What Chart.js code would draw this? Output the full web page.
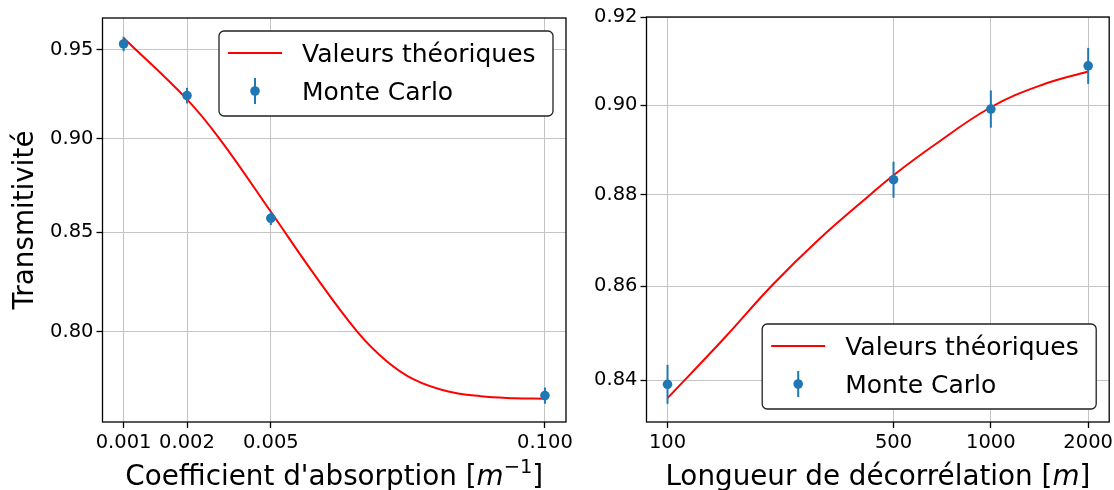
<!DOCTYPE html>
<html>
<head>
<meta charset="utf-8">
<script src="https://cdn.jsdelivr.net/npm/chart.js@4.4.1/dist/chart.umd.min.js"></script>
<style>
    html, body { margin: 0; padding: 0; background: #fff; }
    #wrap { position: relative; width: 1114px; height: 490px; }
    .panel { position: absolute; top: 0; height: 490px; }
</style>
</head>
<body>
<div id="wrap">
    <div class="panel" style="left:0;width:575px"><canvas id="absChart" width="575" height="490"></canvas></div>
    <div class="panel" style="left:575px;width:539px"><canvas id="corrChart" width="539" height="490"></canvas></div>
</div>
<script>
// Legend labels (same for both panels): theory first, Monte Carlo second
const seriesLabels = ['Valeurs théoriques', 'Monte Carlo'];

// Left panel - absorption coefficient
const absTheoryX = [0.001, 0.002, 0.00288, 0.005, 0.008, 0.01285, 0.01751, 0.02386, 0.0344, 0.0495, 0.0712, 0.1];
const absTheoryY = [0.9570, 0.9218, 0.8993, 0.8607, 0.8287, 0.8000, 0.7862, 0.7770, 0.7714, 0.7691, 0.7682, 0.7679];
const absMcX = [0.001, 0.002, 0.005, 0.1];
const absMcY = [0.9535, 0.9239, 0.8573, 0.7694];
const absMcErr = [0.0042, 0.0044, 0.0036, 0.0038];
const absTicksX = [0.001, 0.002, 0.005, 0.1];
const absTicksY = [0.80, 0.85, 0.90, 0.95];

// Right panel - decorrelation length
const corrTheoryX = [100, 150, 210, 292, 427, 500, 662, 1000, 1444, 2000];
const corrTheoryY = [0.8362, 0.8489, 0.8601, 0.8700, 0.8802, 0.8843, 0.8908, 0.8995, 0.9046, 0.9076];
const corrMcX = [100, 500, 1000, 2000];
const corrMcY = [0.8391, 0.8833, 0.8991, 0.9089];
const corrMcErr = [0.0041, 0.0040, 0.0042, 0.0041];
const corrTicksX = [100, 500, 1000, 2000];
const corrTicksY = [0.84, 0.86, 0.88, 0.90, 0.92];

const FONT = '"DejaVu Sans", sans-serif';
const MC_COLOR = '#1f77b4';
const THEORY_COLOR = '#ff0000';

function drawLegend(ctx, area, corner) {
    const w = 334, h = 85, inset = 13;
    const x = area.right - inset - w;
    const y = corner === 'top' ? area.top + inset : area.bottom - inset - h;

    ctx.fillStyle = '#fff';
    ctx.strokeStyle = '#222';
    ctx.lineWidth = 1.3;
    ctx.beginPath();
    ctx.roundRect(x, y, w, h, 5);
    ctx.fill();
    ctx.stroke();

    // theory sample
    ctx.strokeStyle = THEORY_COLOR;
    ctx.lineWidth = 2;
    ctx.beginPath();
    ctx.moveTo(x + 9, y + 22);
    ctx.lineTo(x + 63, y + 22);
    ctx.stroke();

    // errorbar sample
    ctx.strokeStyle = MC_COLOR;
    ctx.beginPath();
    ctx.moveTo(x + 36, y + 47);
    ctx.lineTo(x + 36, y + 73);
    ctx.stroke();
    ctx.fillStyle = MC_COLOR;
    ctx.beginPath();
    ctx.arc(x + 36, y + 60, 4.8, 0, Math.PI * 2);
    ctx.fill();

    ctx.fillStyle = '#000';
    ctx.font = '25px ' + FONT;
    ctx.textAlign = 'left';
    ctx.textBaseline = 'alphabetic';
    ctx.fillText(seriesLabels[0], x + 83, y + 31);
    ctx.fillText(seriesLabels[1], x + 83, y + 69);
}

// parts: [text, 'rm' | 'it' | 'sup']
function drawMathTitle(ctx, parts, cx, baseline) {
    const size = 27.8;
    const fonts = {
        rm: size + 'px ' + FONT,
        it: 'italic ' + size + 'px ' + FONT,
        sup: (size * 0.7) + 'px ' + FONT
    };
    let total = 0;
    parts.forEach(p => {
        ctx.font = fonts[p[1]];
        total += ctx.measureText(p[0]).width;
    });
    let x = cx - total / 2;
    ctx.fillStyle = '#000';
    ctx.textAlign = 'left';
    ctx.textBaseline = 'alphabetic';
    parts.forEach(p => {
        ctx.font = fonts[p[1]];
        ctx.fillText(p[0], x, p[1] === 'sup' ? baseline - 12 : baseline);
        x += ctx.measureText(p[0]).width;
    });
}

function panelPlugin(cfg) {
    return {
        id: 'panel',
        afterDatasetsDraw(chart) {
            const ctx = chart.ctx;
            const xs = chart.scales.x;
            const ys = chart.scales.y;
            const area = chart.chartArea;
            ctx.save();

            // error bars
            ctx.strokeStyle = MC_COLOR;
            ctx.lineWidth = 2;
            cfg.mcX.forEach((xv, i) => {
                const px = xs.getPixelForValue(xv);
                ctx.beginPath();
                ctx.moveTo(px, ys.getPixelForValue(cfg.mcY[i] - cfg.mcErr[i]));
                ctx.lineTo(px, ys.getPixelForValue(cfg.mcY[i] + cfg.mcErr[i]));
                ctx.stroke();
            });

            // axes frame
            ctx.strokeStyle = '#000';
            ctx.lineWidth = 1.3;
            ctx.strokeRect(area.left, area.top, area.right - area.left, area.bottom - area.top);

            drawLegend(ctx, area, cfg.legendCorner);
            ctx.restore();
        },
        afterDraw(chart) {
            const ctx = chart.ctx;
            const area = chart.chartArea;
            ctx.save();
            drawMathTitle(ctx, cfg.xTitle, (area.left + area.right) / 2, 485);
            if (cfg.yTitle) {
                ctx.translate(33, (area.top + area.bottom) / 2);
                ctx.rotate(-Math.PI / 2);
                ctx.font = '27.8px ' + FONT;
                ctx.fillStyle = '#000';
                ctx.textAlign = 'center';
                ctx.textBaseline = 'alphabetic';
                ctx.fillText(cfg.yTitle, 0, 0);
            }
            ctx.restore();
        }
    };
}

function logAxis(ticksArr, min, max, decimals, afterFit) {
    return {
        type: 'logarithmic',
        min: min,
        max: max,
        bounds: 'data',
        border: { display: false },
        grid: {
            color: '#c4c4c4',
            lineWidth: 1,
            drawTicks: true,
            tickLength: 6,
            tickColor: '#000',
            tickWidth: 1.3
        },
        ticks: {
            autoSkip: false,
            maxRotation: 0,
            minRotation: 0,
            padding: 3,
            color: '#000',
            font: { family: FONT, size: 19.5 },
            callback: value => Number(value).toFixed(decimals)
        },
        afterBuildTicks: scale => {
            scale.ticks = ticksArr.map(v => ({ value: v }));
        },
        afterFit: afterFit
    };
}

function buildChart(canvasId, cfg) {
    const ctx = document.getElementById(canvasId);
    return new Chart(ctx.getContext('2d'), {
        type: 'scatter',
        data: {
            datasets: [{
                label: seriesLabels[1],
                data: cfg.mcX.map((x, i) => ({ x: x, y: cfg.mcY[i] })),
                backgroundColor: MC_COLOR,
                borderWidth: 0,
                pointRadius: 4.8
            }, {
                label: seriesLabels[0],
                data: cfg.theoryX.map((x, i) => ({ x: x, y: cfg.theoryY[i] })),
                showLine: true,
                borderColor: THEORY_COLOR,
                borderWidth: 2,
                pointRadius: 0,
                tension: 0.4
            }]
        },
        options: {
            responsive: false,
            animation: false,
            events: [],
            layout: { padding: cfg.padding },
            plugins: {
                legend: { display: false },
                tooltip: { enabled: false }
            },
            scales: {
                x: logAxis(cfg.ticksX, cfg.xMin, cfg.xMax, cfg.xDecimals, s => {
                    s.height = cfg.xAxisHeight;
                    s.paddingLeft = 0;
                    s.paddingRight = 0;
                }),
                y: logAxis(cfg.ticksY, cfg.yMin, cfg.yMax, 2, s => {
                    s.width = cfg.yAxisWidth;
                    s.paddingTop = 0;
                    s.paddingBottom = 0;
                })
            }
        },
        plugins: [panelPlugin(cfg)]
    });
}

function loadCharts() {
    buildChart('absChart', {
        theoryX: absTheoryX, theoryY: absTheoryY,
        mcX: absMcX, mcY: absMcY, mcErr: absMcErr,
        ticksX: absTicksX, ticksY: absTicksY,
        xMin: 0.000794, xMax: 0.1259, yMin: 0.7571, yMax: 0.9687,
        xDecimals: 3,
        padding: { left: 0, top: 18, right: 9, bottom: 0 },
        xAxisHeight: 68, yAxisWidth: 102.5,
        legendCorner: 'top',
        xTitle: [["Coefficient d'absorption [", 'rm'], ['m', 'it'], ['\u22121', 'sup'], [']', 'rm']],
        yTitle: 'Transmitivité'
    });

    buildChart('corrChart', {
        theoryX: corrTheoryX, theoryY: corrTheoryY,
        mcX: corrMcX, mcY: corrMcY, mcErr: corrMcErr,
        ticksX: corrTicksX, ticksY: corrTicksY,
        xMin: 86.1, xMax: 2323, yMin: 0.8312, yMax: 0.9201,
        xDecimals: 0,
        padding: { left: 0, top: 17, right: 4, bottom: 0 },
        xAxisHeight: 68, yAxisWidth: 71.5,
        legendCorner: 'bottom',
        xTitle: [['Longueur de décorrélation [', 'rm'], ['m', 'it'], [']', 'rm']],
        yTitle: null
    });
}

loadCharts();
</script>
</body>
</html>
